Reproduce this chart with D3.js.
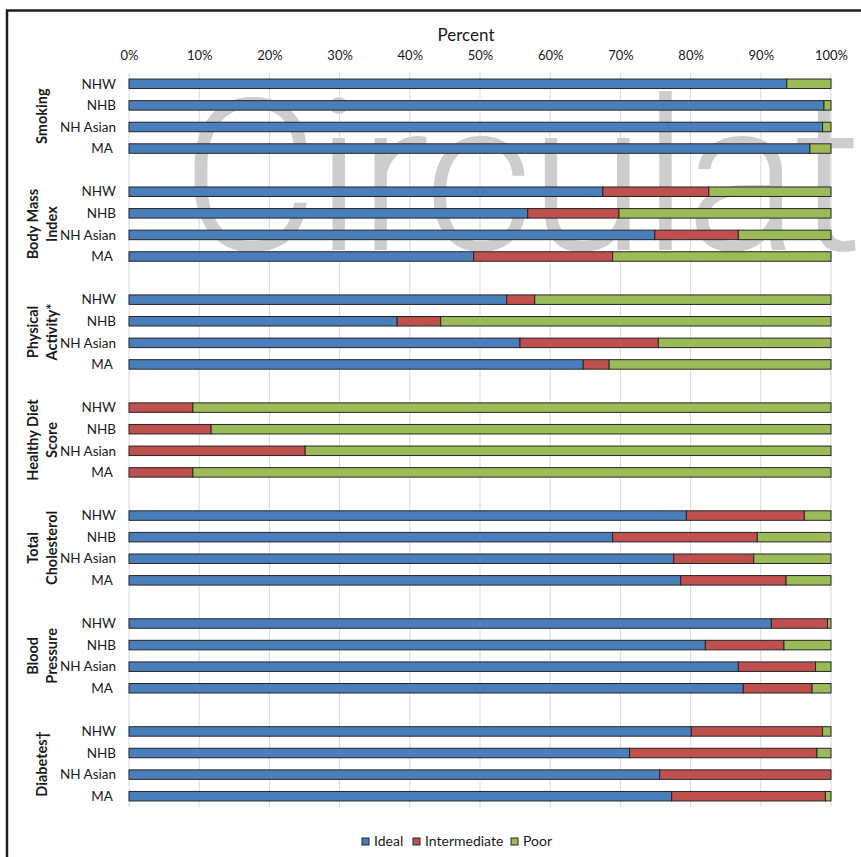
<!DOCTYPE html>
<html>
<head>
<meta charset="utf-8">
<script src="https://cdn.jsdelivr.net/npm/d3@7/dist/d3.min.js"></script>
<style>
  body { margin: 0; background: #fff; }
  text { font-family: Lato, "Open Sans", sans-serif; fill: #1a1a1a; }
</style>
</head>
<body>
<script>
// metrics and race/ethnicity groups
var groupLabels = [["Smoking"], ["Body Mass", "Index"], ["Physical", "Activity*"],
                   ["Healthy Diet", "Score"], ["Total", "Cholesterol"], ["Blood", "Pressure"], ["Diabetes\u2020"]];
var races = ["NHW", "NHB", "NH Asian", "MA "];
var seriesNames = ["Ideal", "Intermediate", "Poor"];
var seriesColors = ["#4a7ebb", "#c0504d", "#9bbb59"];

// percent values, one row per metric, in race order
var ideal = [
  [93.7, 99.0, 98.8, 97.0],
  [67.5, 56.8, 74.9, 49.1],
  [53.8, 38.2, 55.7, 64.7],
  [0, 0, 0, 0],
  [79.4, 68.9, 77.6, 78.6],
  [91.5, 82.1, 86.8, 87.5],
  [80.1, 71.3, 75.6, 77.3]
];
var intermediate = [
  [0, 0, 0, 0],
  [15.1, 13.0, 11.9, 19.8],
  [4.0, 6.2, 19.7, 3.7],
  [9.1, 11.7, 25.1, 9.1],
  [16.8, 20.6, 11.4, 15.0],
  [8.0, 11.2, 11.0, 9.8],
  [18.7, 26.7, 24.4, 21.9]
];
var poor = [
  [6.3, 1.0, 1.2, 3.0],
  [17.4, 30.2, 13.2, 31.1],
  [42.2, 55.6, 24.6, 31.6],
  [90.9, 88.3, 74.9, 90.9],
  [3.8, 10.5, 11.0, 6.4],
  [0.5, 6.7, 2.2, 2.7],
  [1.2, 2.0, 0, 0.8]
];
var xTicks = [0, 10, 20, 30, 40, 50, 60, 70, 80, 90, 100];

var width = 861, height = 857;

// rows: 4 races per metric, blank row between metrics
var rowKeys = [];
var rows = [];
groupLabels.forEach(function(g, gi) {
  if (gi > 0) rowKeys.push("blank" + gi);
  races.forEach(function(r, ri) {
    var key = gi + "-" + ri;
    rowKeys.push(key);
    rows.push({key: key, g: gi, race: r, vals: [ideal[gi][ri], intermediate[gi][ri], poor[gi][ri]]});
  });
});

var x = d3.scaleLinear().domain([0, 100]).range([129, 831]);
var y = d3.scaleBand().domain(rowKeys).range([73, 807]);
var barH = 9.5;

var svg = d3.select("body").append("svg")
    .attr("width", width)
    .attr("height", height);

// frame
svg.append("path")
    .attr("d", "M7,857 V10.5 H861")
    .attr("fill", "none")
    .attr("stroke", "#1e1e1e")
    .attr("stroke-width", 2.5);

// gridlines
svg.append("g").selectAll("line")
    .data(xTicks)
    .enter().append("line")
    .attr("x1", function(d) { return x(d); })
    .attr("x2", function(d) { return x(d); })
    .attr("y1", 73)
    .attr("y2", 807)
    .attr("stroke", "#d9d9d9")
    .attr("stroke-width", 1);

// watermark
svg.append("text")
    .attr("x", 181)
    .attr("y", 250)
    .style("font-family", "Roboto, sans-serif")
    .style("font-weight", 300)
    .style("font-size", "212px")
    .style("letter-spacing", "-4px")
    .style("fill", "#cdcdcd")
    .text("Circulation");

// axis title and tick labels
svg.append("text")
    .attr("x", 466)
    .attr("y", 41)
    .attr("text-anchor", "middle")
    .style("font-size", "17px")
    .text("Percent");

var xAxis = d3.axisTop(x).tickValues(xTicks).tickSize(0).tickPadding(0)
    .tickFormat(function(d) { return d + "%"; });
var axisG = svg.append("g")
    .attr("transform", "translate(0,60)")
    .call(xAxis);
axisG.select(".domain").remove();
axisG.selectAll("text")
    .style("font-family", "Lato, sans-serif")
    .style("font-size", "13px")
    .attr("fill", "#1a1a1a");

// stacked bars
var rowG = svg.append("g").selectAll("g")
    .data(rows)
    .enter().append("g")
    .attr("transform", function(d) { return "translate(0," + (y(d.key) + y.bandwidth() / 2 - barH / 2) + ")"; });

rowG.selectAll("rect")
    .data(function(d) {
      var acc = 0;
      return d.vals.map(function(v, i) {
        var s = {x0: acc, x1: acc + v, i: i};
        acc += v;
        return s;
      }).filter(function(s) { return s.x1 - s.x0 > 0; });
    })
    .enter().append("rect")
    .attr("x", function(d) { return x(d.x0); })
    .attr("width", function(d) { return x(d.x1) - x(d.x0); })
    .attr("y", 0)
    .attr("height", barH)
    .attr("fill", function(d) { return seriesColors[d.i]; })
    .attr("stroke", "#262626")
    .attr("stroke-width", 1);

// race labels
rowG.append("text")
    .attr("x", 116)
    .attr("y", barH / 2)
    .attr("dy", "0.35em")
    .attr("text-anchor", "end")
    .style("font-size", "13.5px")
    .style("white-space", "pre")
    .text(function(d) { return d.race; });

// metric labels (rotated)
groupLabels.forEach(function(lines, gi) {
  var y0 = y(gi + "-0"), y1 = y(gi + "-3") + y.bandwidth();
  var cy = (y0 + y1) / 2;
  var t = svg.append("text")
      .attr("transform", "translate(42," + cy + ") rotate(-90)")
      .attr("text-anchor", "middle")
      .style("font-size", "14.5px")
      .style("font-weight", "bold");
  lines.forEach(function(l, li) {
    t.append("tspan")
        .attr("x", 0)
        .attr("y", (li - (lines.length - 1) / 2) * 19)
        .attr("dy", "0.35em")
        .text(l);
  });
});

// legend
var legendX = [362, 413, 511];
var legend = svg.append("g").selectAll("g")
    .data(seriesNames)
    .enter().append("g")
    .attr("transform", function(d, i) { return "translate(" + legendX[i] + ",838)"; });
legend.append("rect")
    .attr("width", 7)
    .attr("height", 7)
    .attr("fill", function(d, i) { return seriesColors[i]; })
    .attr("stroke", "#262626")
    .attr("stroke-width", 1);
legend.append("text")
    .attr("x", 12)
    .attr("y", 3.5)
    .attr("dy", "0.35em")
    .style("font-size", "14px")
    .text(function(d) { return d; });
</script>
</body>
</html>
